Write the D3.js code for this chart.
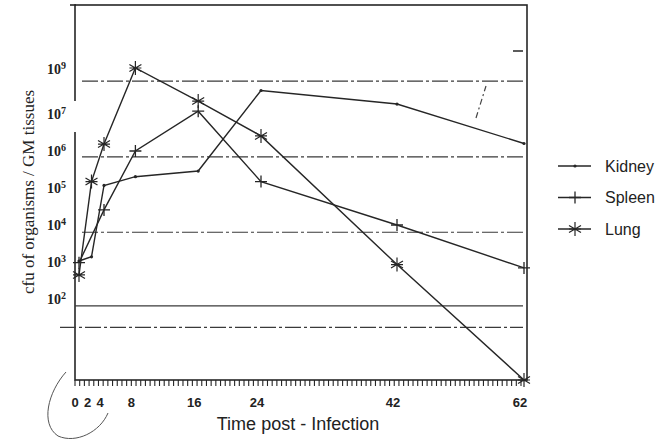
<!DOCTYPE html>
<html>
<head>
<meta charset="utf-8">
<script src="https://cdn.jsdelivr.net/npm/d3@7"></script>
<style>
  body { margin: 0; background: #fff; }
</style>
</head>
<body>
<div id="chart"></div>
<script>
// values (cfu per organ, hours post infection)
var hours = [0, 2, 4, 8, 16, 24, 42, 62]
var kidney = [1000, 1300, 110000, 190000, 270000, 1e8, 2.5e7, 1.5e6]
var spleen = [900, null, 24000, 940000, 1.2e7, 140000, 9400, 650]
var lung = [420, 140000, 1.45e6, 1e9, 3.4e7, 2.4e6, 800, 0.5]
var seriesNames = ["Kidney", "Spleen", "Lung"]

var yTickValues = [1e9, 1e7, 1e6, 1e5, 1e4, 1e3, 1e2]
var yTickExp = ["9", "7", "6", "5", "4", "3", "2"]

// dash-dot ruled lines of the original sheet
var gridValues = [2.6e8, 6.5e5, 6e3, 15]
var solidGridValue = 60

var ink = "#262626"
var box = { l: 75, r: 527, t: 5, b: 380 }

var svg = d3.select("#chart")
    .append("svg")
    .attr("width", 664)
    .attr("height", 441)

// the hand drawn axes are not uniform, so both scales are piecewise
var x = d3.scaleLinear()
    .domain([0, 4, 24, 42, 62])
    .range([79, 104, 261, 397, 524])

var y = d3.scaleLog()
    .domain([0.5, 1e2, 1e7, 1e9])
    .range([380, 298, 113, 68])

// frame as a rectangle, left side gap painted over below
svg.append("rect")
    .attr("x", box.l).attr("y", box.t)
    .attr("width", box.r - box.l).attr("height", box.b - box.t)
    .attr("fill", "none")
    .attr("stroke", ink)
    .attr("stroke-width", 1.6)
svg.append("rect")
    .attr("x", box.l - 2).attr("y", 101)
    .attr("width", 4).attr("height", 31)
    .attr("fill", "#fff")
svg.append("rect")
    .attr("x", 70).attr("y", box.t - 0.8)
    .attr("width", 6).attr("height", 1.6)
    .attr("fill", ink)

// ruled lines
svg.append("g")
    .selectAll("line")
    .data(gridValues)
    .enter()
    .append("line")
    .attr("x1", function (d, i) { return i == 3 ? 60 : 82 })
    .attr("x2", box.r - 4)
    .attr("y1", function (d) { return y(d) })
    .attr("y2", function (d) { return y(d) })
    .attr("stroke", "#3a3a3a")
    .attr("stroke-width", 1.1)
    .style("stroke-dasharray", "16,3,3,3")
svg.append("line")
    .attr("x1", box.l).attr("x2", box.r - 4)
    .attr("y1", y(solidGridValue)).attr("y2", y(solidGridValue))
    .attr("stroke", "#3a3a3a")
    .attr("stroke-width", 1.2)

// stray marks of the scan
svg.append("line")
    .attr("x1", 513).attr("x2", 523).attr("y1", 51).attr("y2", 51)
    .attr("stroke", ink).attr("stroke-width", 1.5)
svg.append("line")
    .attr("x1", 476).attr("x2", 486).attr("y1", 118).attr("y2", 86)
    .attr("stroke", "#444").attr("stroke-width", 1.2)
    .style("stroke-dasharray", "6,3,2,3")
svg.append("path")
    .attr("d", "M66,372 C48,392 40,424 58,436 C76,444 100,432 108,413")
    .attr("fill", "none")
    .attr("stroke", "#555")
    .attr("stroke-width", 1)

// x axis ruler ticks as one path built from a tick scale
var xTick = d3.scaleLinear().domain([0, 95]).range([box.l, box.r - 6])
svg.append("path")
    .attr("d", d3.range(0, 96).map(function (i) {
        return "M" + xTick(i) + "," + box.b + "L" + xTick(i) + "," + (box.b + 6)
    }).join(""))
    .attr("fill", "none")
    .attr("stroke", ink)
    .attr("stroke-width", 1.1)

svg.append("g")
    .selectAll("text")
    .data(hours)
    .enter()
    .append("text")
    .attr("x", function (d) { return x(d) - 4 })
    .attr("y", 407)
    .attr("text-anchor", "middle")
    .style("font-family", "Liberation Sans, Arial, sans-serif")
    .style("font-size", "13px")
    .style("font-weight", "bold")
    .style("fill", "#222")
    .text(function (d) { return d })

svg.append("text")
    .attr("x", 298)
    .attr("y", 430)
    .attr("text-anchor", "middle")
    .style("font-family", "Liberation Sans, Arial, sans-serif")
    .style("font-size", "18px")
    .style("fill", "#222")
    .text("Time post - Infection")

// y axis labels with exponents
var yLab = svg.append("g")
    .selectAll("text")
    .data(yTickValues)
    .enter()
    .append("text")
    .attr("x", 66)
    .attr("y", function (d) { return y(d) })
    .attr("dy", "0.45em")
    .attr("text-anchor", "end")
    .style("font-family", "Liberation Serif, Times New Roman, serif")
    .style("font-size", "14px")
    .style("font-weight", "bold")
    .style("fill", "#222")
yLab.append("tspan").text("10")
yLab.append("tspan")
    .attr("dy", "-0.5em")
    .style("font-size", "10px")
    .text(function (d, i) { return yTickExp[i] })

svg.append("text")
    .attr("transform", "translate(34,192) rotate(-90)")
    .attr("text-anchor", "middle")
    .style("font-family", "Liberation Serif, Times New Roman, serif")
    .style("font-size", "17px")
    .style("fill", "#222")
    .text("cfu of organisms / GM tissues")

// series
var series = [kidney, spleen, lung].map(function (vals, i) {
    return {
        name: seriesNames[i],
        points: hours.map(function (h, j) { return { h: h, v: vals[j] } })
            .filter(function (p) { return p.v != null })
    }
})

var line = d3.line()
    .x(function (d) { return x(d.h) })
    .y(function (d) { return y(d.v) })

function drawMarker(g, name) {
    if (name == "Kidney") {
        g.append("circle").attr("r", 1.6).attr("fill", ink)
    } else if (name == "Spleen") {
        g.append("path").attr("d", "M-6,0L6,0M0,-6L0,6")
            .attr("stroke", ink).attr("stroke-width", 1.3)
    } else {
        g.append("path").attr("d", "M0,-7L0,7M-6,-3.5L6,3.5M-6,3.5L6,-3.5M-6,0L6,0")
            .attr("stroke", ink).attr("stroke-width", 1.2)
    }
}

series.forEach(function (s) {
    svg.append("path")
        .datum(s.points)
        .attr("d", line)
        .attr("fill", "none")
        .attr("stroke", ink)
        .attr("stroke-width", 1.4)
    svg.append("g")
        .selectAll("g")
        .data(s.points)
        .enter()
        .append("g")
        .attr("transform", function (d) { return "translate(" + x(d.h) + "," + y(d.v) + ")" })
        .each(function () { drawMarker(d3.select(this), s.name) })
})

// legend
var legend = svg.append("g")
    .selectAll("g")
    .data(seriesNames)
    .enter()
    .append("g")
    .attr("transform", function (d, i) { return "translate(558," + (166 + i * 31.5) + ")" })

legend.append("line")
    .attr("x1", 0).attr("x2", 33)
    .attr("stroke", ink).attr("stroke-width", 1.4)
legend.append("g")
    .attr("transform", "translate(17,0)")
    .each(function (d) { drawMarker(d3.select(this), d) })
legend.append("text")
    .attr("x", 47)
    .attr("dy", "0.36em")
    .style("font-family", "Liberation Sans, Arial, sans-serif")
    .style("font-size", "16px")
    .style("fill", "#222")
    .text(function (d) { return d })
</script>
</body>
</html>
